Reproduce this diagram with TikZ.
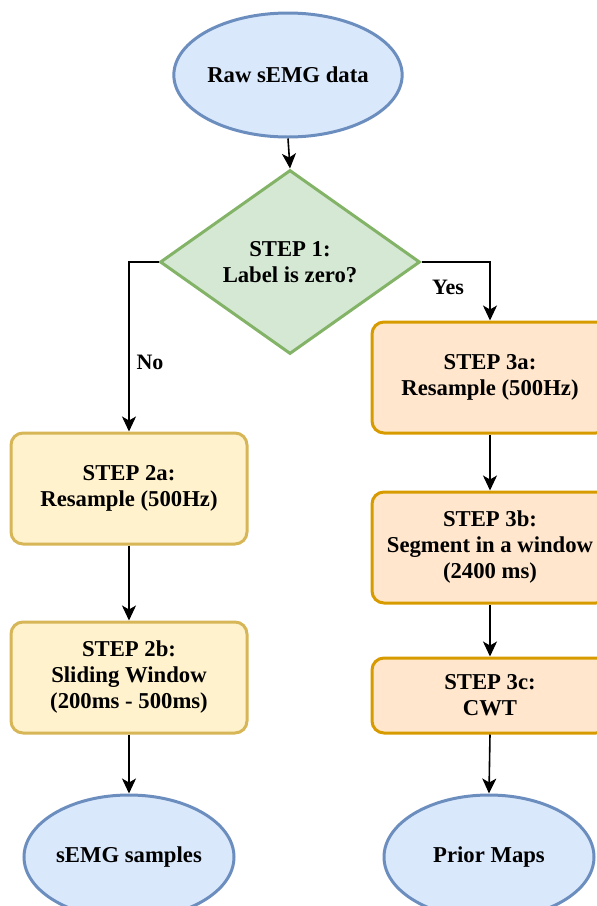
\documentclass[tikz,border=0pt]{standalone}
\usepackage{fontspec}
\setmainfont{Liberation Serif}
\usetikzlibrary{shapes.geometric,arrows.meta}
\definecolor{bfill}{HTML}{DAE8FC}\definecolor{bline}{HTML}{6C8EBF}
\definecolor{gfill}{HTML}{D5E8D4}\definecolor{gline}{HTML}{82B366}
\definecolor{yfill}{HTML}{FFF2CC}\definecolor{yline}{HTML}{D6B656}
\definecolor{ofill}{HTML}{FFE6CC}\definecolor{oline}{HTML}{D79B00}
\tikzset{
  txt/.style={font=\fontsize{22.7}{26}\selectfont\bfseries, align=center, inner sep=0pt},
  oval/.style={txt, ellipse, draw=bline, fill=bfill, line width=3pt, minimum width=210pt, minimum height=124pt},
  decide/.style={txt, diamond, draw=gline, fill=gfill, line width=3pt, minimum width=260pt, minimum height=184pt},
  ybox/.style={txt, rectangle, rounded corners=12pt, draw=yline, fill=yfill, line width=3pt, minimum width=236pt, minimum height=111pt},
  obox/.style={txt, rectangle, rounded corners=12pt, draw=oline, fill=ofill, line width=3pt, minimum width=236pt, minimum height=111pt},
  conn/.style={draw=black, line width=1.6pt, -{Stealth[length=15pt,width=14pt,inset=4pt]}},
  lbl/.style={font=\fontsize{22}{26}\selectfont\bfseries, inner sep=0pt}
}
\begin{document}
\begin{tikzpicture}[x=1pt,y=-1pt]
\useasboundingbox (0,0) rectangle (597,906);
\node[oval] (raw) at (288,75) {Raw sEMG data};
\node[decide] (dec) at (290,262) {STEP 1:\\Label is zero?};
\node[ybox] (s2a) at (129,488.5) {STEP 2a:\\Resample (500Hz)};
\node[ybox] (s2b) at (129,677.5) {STEP 2b:\\Sliding Window\\(200ms - 500ms)};
\node[obox] (s3a) at (490,377.5) {STEP 3a:\\Resample (500Hz)};
\node[obox] (s3b) at (490,547.5) {STEP 3b:\\Segment in a window\\(2400 ms)};
\node[obox, minimum height=75pt] (s3c) at (490,695.5) {STEP 3c:\\CWT};
\node[oval] (out1) at (129,857) {sEMG samples};
\node[oval] (out2) at (489,857) {Prior Maps};
\node[lbl] (no) at (150,362) {No};
\node[lbl] (yes) at (448,287) {Yes};
\draw[conn] (raw.south) -- (dec.north);
\draw[conn] (dec.west) -| (s2a.north);
\draw[conn] (dec.east) -| (s3a.north);
\draw[conn] (s2a.south) -- (s2b.north);
\draw[conn] (s2b.south) -- (out1.north);
\draw[conn] (s3a.south) -- (s3b.north);
\draw[conn] (s3b.south) -- (s3c.north);
\draw[conn] (s3c.south) -- (out2.north);
\end{tikzpicture}
\end{document}
